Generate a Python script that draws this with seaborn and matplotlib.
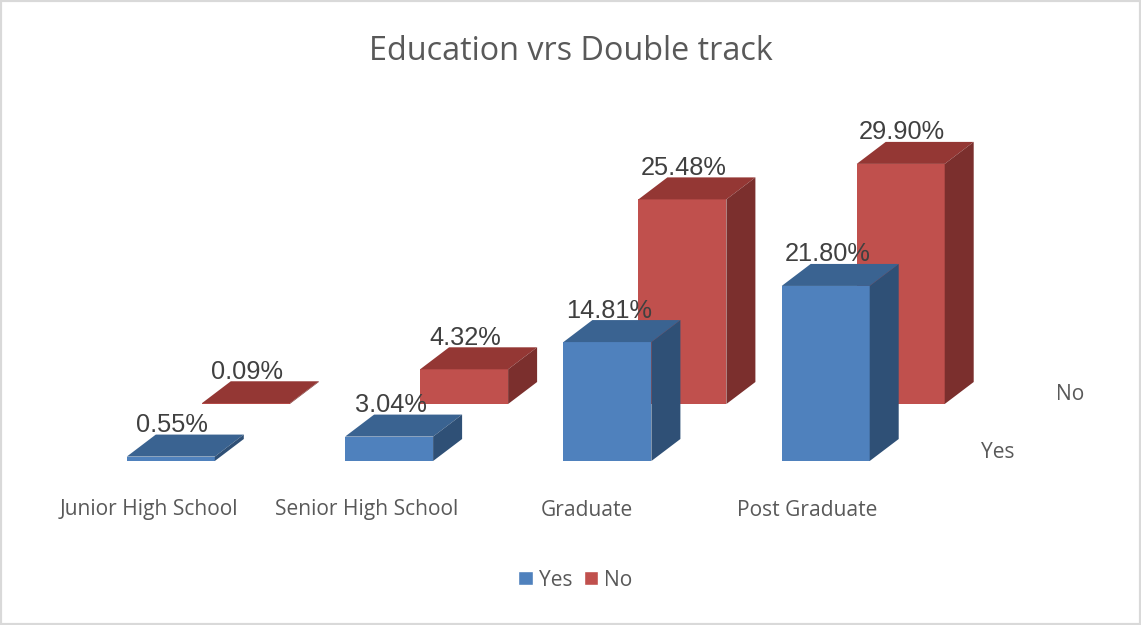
import matplotlib
matplotlib.use("Agg")
import matplotlib.pyplot as plt
import pandas as pd
import seaborn as sns
from matplotlib.patches import Polygon, Patch

education = ["Junior High School", "Senior High School", "Graduate", "Post Graduate"]
yes_values = [0.55, 3.04, 14.81, 21.80]
no_values = [0.09, 4.32, 25.48, 29.90]
series_names = ["Yes", "No"]
title = "Education vrs Double track"

W, H = 1141, 625
YES_C = ("#4F81BD", "#3A6391", "#2F5076")
NO_C = ("#C0504D", "#943734", "#7B2F2D")
TXT = "#595959"
LABEL_FONT = "Open Sans"

sns.set_theme(style="white")
fig = plt.figure(figsize=(W / 100, H / 100), dpi=100, facecolor="white")

PX_PER_UNIT = 8.03
SPACING = 218.3
AX_H = 40 * PX_PER_UNIT
AX_W = 4 * SPACING
LEFT = 170.8 - SPACING / 2


def make_axes(dx, dy):
    return fig.add_axes([(LEFT + dx) / W, (H - 461 + dy) / H, AX_W / W, AX_H / H])


def draw_series(ax, values, colors, zorder):
    df = pd.DataFrame({"Education": education, "Value": values})
    sns.barplot(data=df, x="Education", y="Value", color=colors[0], saturation=1,
                width=88 / SPACING, ax=ax, zorder=zorder, linewidth=0)
    ax.set_xlim(-0.5, 3.5)
    ax.set_ylim(0, 40)
    ax.axis("off")
    ax.patch.set_alpha(0)
    depth_x = 29 / SPACING
    depth_y = 22 / PX_PER_UNIT
    for bar, v in zip(ax.patches[:len(values)], values):
        x0, x1 = bar.get_x(), bar.get_x() + bar.get_width()
        top = bar.get_height()
        ax.add_patch(Polygon([(x0, top), (x1, top), (x1 + depth_x, top + depth_y),
                              (x0 + depth_x, top + depth_y)], closed=True,
                             fc=colors[1], ec="none", zorder=zorder, clip_on=False))
        ax.add_patch(Polygon([(x1, 0), (x1, top), (x1 + depth_x, top + depth_y),
                              (x1 + depth_x, depth_y)], closed=True,
                             fc=colors[2], ec="none", zorder=zorder, clip_on=False))
        ax.annotate(f"{v:.2f}%", ((x0 + x1) / 2, top), xytext=(1.5, 19.5),
                    textcoords="offset pixels", ha="center", va="bottom",
                    fontsize=18.3, color="#404040", family="Liberation Sans",
                    annotation_clip=False, zorder=zorder + 5)


ax_no = make_axes(75, 57)
draw_series(ax_no, no_values, NO_C, 2)
ax_yes = make_axes(0, 0)
draw_series(ax_yes, yes_values, YES_C, 3)

label_dx = [-21.5, -22, -21, -19]
for i, name in enumerate(education):
    ax_yes.annotate(name, (i, 0), xytext=(label_dx[i], -49), textcoords="offset pixels",
                    ha="center", va="center", fontsize=15.1, color=TXT,
                    family=LABEL_FONT, annotation_clip=False)

fig.text(570.5 / W, 1 - 51.5 / H, title, ha="center", va="center", fontsize=23.3,
         color=TXT, family=LABEL_FONT)
fig.text(1070 / W, 1 - 395 / H, series_names[1], ha="center", va="center",
         fontsize=15.1, color=TXT, family=LABEL_FONT)
fig.text(997.5 / W, 1 - 452 / H, series_names[0], ha="center", va="center",
         fontsize=15.1, color=TXT, family=LABEL_FONT)

handles = [Patch(fc=YES_C[0], label=series_names[0]), Patch(fc=NO_C[0], label=series_names[1])]
fig.legend(handles=handles, loc="center", bbox_to_anchor=(575.5 / W, 1 - 580 / H), ncol=2,
           frameon=False, handlelength=0.68, handleheight=0.68, handletextpad=0.3,
           columnspacing=0.55, prop={"family": LABEL_FONT, "size": 15.1}, labelcolor=TXT)

fig.add_artist(plt.Rectangle((0, 0), 1, 1, transform=fig.transFigure, fill=False,
                             ec="#D9D9D9", lw=3))
fig.savefig("out.png", dpi=100)
